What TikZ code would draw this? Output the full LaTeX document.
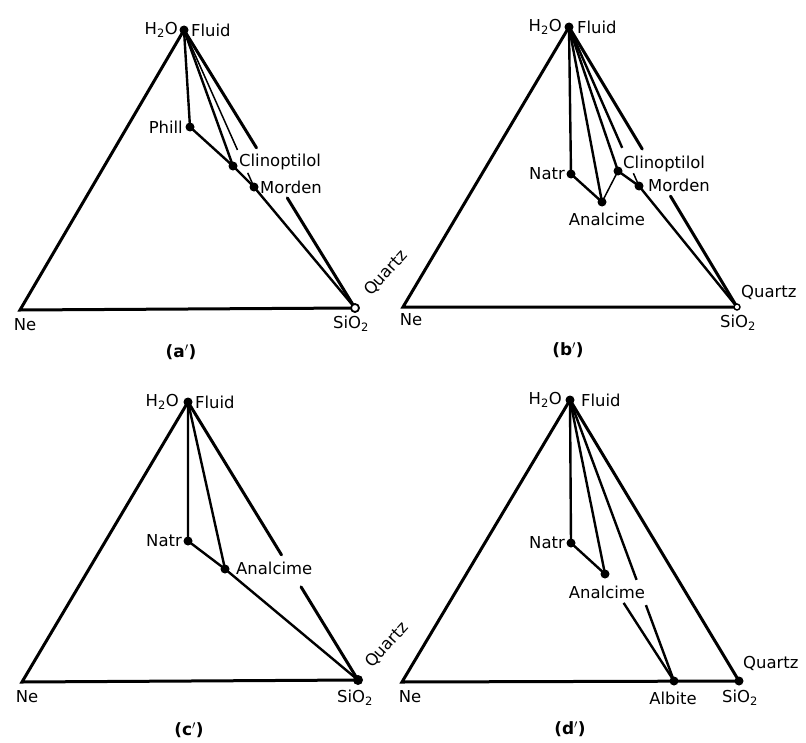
\documentclass[tikz,border=0pt]{standalone}
\usepackage{fontspec}
\setmainfont{DejaVu Sans}
\begin{document}
\begin{tikzpicture}[x=1bp,y=-1bp,
  edge/.style={line width=3bp,line cap=round},
  tie/.style={line width=2.4bp},
  thin tie/.style={line width=1.5bp},
  dot/.style={circle,fill=black,inner sep=0pt,minimum size=9bp},
  odot/.style={circle,draw=black,fill=white,line width=1.8bp,inner sep=0pt,minimum size=8bp},
  lab/.style={inner sep=1bp,font=\fontsize{16.5}{16.5}\selectfont},
  captext/.style={inner sep=1bp,font=\fontsize{17}{17}\selectfont\bfseries}]
\useasboundingbox (0,0) rectangle (806,743);
% ================= (a') =================
\coordinate (aH) at (184,30);
\coordinate (aN) at (20,310);
\coordinate (aS) at (355,308);
\coordinate (aP) at (190,127);
\coordinate (aC) at (233,166);
\coordinate (aM) at (254,187);
\path (aH) -- (aS) coordinate[pos=0.424] (aHS1) coordinate[pos=0.604] (aHS2);
\path (aH) -- (aM) coordinate[pos=0.764] (aHM1) coordinate[pos=0.91] (aHM2);
\draw[edge] (aH) -- (aN) -- (aS);
\draw[edge] (aH) -- (aHS1);
\draw[edge] (aHS2) -- (aS);
\draw[tie] (aH) -- (aP) -- (aC) -- (aM) -- (aS);
\draw[tie] (aH) -- (aC);
\draw[thin tie] (aH) -- (aHM1);
\draw[thin tie] (aHM2) -- (aM);
\node[dot] at (aH) {};
\node[dot] at (aP) {};
\node[dot] at (aC) {};
\node[dot] at (aM) {};
\node[odot] at (aS) {};
\node[lab,anchor=east] (aHl) at (179,30) {H\textsubscript{2}O};
\node[lab,anchor=west] (aFl) at (190,30) {Fluid};
\node[lab,anchor=east] (aPl) at (184,127) {Phill};
\node[lab,anchor=west] (aCl) at (238,162) {Clinoptilol};
\node[lab,anchor=west] (aMl) at (259,187) {Morden};
\node[lab,rotate=48] (aQl) at (386,273) {Quartz};
\node[lab] (aSl) at (351,324) {SiO\textsubscript{2}};
\node[lab] (aNl) at (25,325) {Ne};
\node[captext] (acap) at (181,352) {(a$'$)};
% ================= (b') =================
\coordinate (bH) at (569,27);
\coordinate (bN) at (403,307);
\coordinate (bS) at (737,307);
\coordinate (bT) at (571,174);
\coordinate (bA) at (602,202);
\coordinate (bC) at (618,171);
\coordinate (bM) at (639,186);
\path (bH) -- (bS) coordinate[pos=0.436] (bHS1) coordinate[pos=0.604] (bHS2);
\path (bH) -- (bM) coordinate[pos=0.76] (bHM1) coordinate[pos=0.92] (bHM2);
\draw[edge] (bH) -- (bN) -- (bS);
\draw[edge] (bH) -- (bHS1);
\draw[edge] (bHS2) -- (bS);
\draw[tie] (bH) -- (bT) -- (bA);
\draw[thin tie] (bA) -- (bC);
\draw[tie] (bC) -- (bM) -- (bS);
\draw[tie] (bH) -- (bA);
\draw[tie] (bH) -- (bC);
\draw[tie] (bH) -- (bHM1);
\draw[thin tie] (bHM2) -- (bM);
\node[dot] at (bH) {};
\node[dot] at (bT) {};
\node[dot] at (bA) {};
\node[dot] at (bC) {};
\node[dot] at (bM) {};
\node[odot,minimum size=6bp,line width=1.4bp] at (bS) {};
\node[lab,anchor=east] (bHl) at (563,27) {H\textsubscript{2}O};
\node[lab,anchor=west] (bFl) at (576,27) {Fluid};
\node[lab,anchor=east] (bTl) at (566,174) {Natr};
\node[lab] (bAl) at (607,219) {Analcime};
\node[lab,anchor=west] (bCl) at (622,164) {Clinoptilol};
\node[lab,anchor=west] (bMl) at (647,185) {Morden};
\node[lab,anchor=west] (bQl) at (740,292) {Quartz};
\node[lab] (bSl) at (738,323) {SiO\textsubscript{2}};
\node[lab] (bNl) at (411,320) {Ne};
\node[captext] (bcap) at (568,350) {(b$'$)};
% ================= (c') =================
\coordinate (cH) at (188,402);
\coordinate (cN) at (22,682);
\coordinate (cS) at (358,680);
\coordinate (cT) at (188,541);
\coordinate (cA) at (225,569);
\path (cH) -- (cS) coordinate[pos=0.55] (cHS1) coordinate[pos=0.665] (cHS2);
\draw[edge] (cH) -- (cN) -- (cS);
\draw[edge] (cH) -- (cHS1);
\draw[edge] (cHS2) -- (cS);
\draw[tie] (cH) -- (cT) -- (cA) -- (cS);
\draw[tie] (cH) -- (cA);
\node[dot] at (cH) {};
\node[dot] at (cT) {};
\node[dot] at (cA) {};
\node[dot,minimum size=10bp] at (cS) {};
\node[lab,anchor=east] (cHl) at (180,402) {H\textsubscript{2}O};
\node[lab,anchor=west] (cFl) at (194,402) {Fluid};
\node[lab,anchor=east] (cTl) at (183,541) {Natr};
\node[lab,anchor=west] (cAl) at (235,568) {Analcime};
\node[lab,rotate=48] (cQl) at (387,645) {Quartz};
\node[lab] (cSl) at (355,698) {SiO\textsubscript{2}};
\node[lab] (cNl) at (27,697) {Ne};
\node[captext] (ccap) at (189,730) {(c$'$)};
% ================= (d') =================
\coordinate (dH) at (570,400);
\coordinate (dN) at (402,682);
\coordinate (dS) at (739,681);
\coordinate (dB) at (674,681);
\coordinate (dT) at (571,543);
\coordinate (dA) at (605,574);
\path (dH) -- (dB) coordinate[pos=0.64] (dHB1) coordinate[pos=0.73] (dHB2);
\path (dA) -- (dB) coordinate[pos=0.27] (dAB1);
\draw[edge] (dH) -- (dN) -- (dS);
\draw[edge] (dH) -- (dS);
\draw[tie] (dH) -- (dT) -- (dA);
\draw[tie] (dH) -- (dA);
\draw[tie] (dH) -- (dHB1);
\draw[tie] (dHB2) -- (dB);
\draw[tie] (dAB1) -- (dB);
\node[dot] at (dH) {};
\node[dot] at (dT) {};
\node[dot] at (dA) {};
\node[dot] at (dB) {};
\node[dot] at (dS) {};
\node[lab,anchor=east] (dHl) at (563,400) {H\textsubscript{2}O};
\node[lab,anchor=west] (dFl) at (580,400) {Fluid};
\node[lab,anchor=east] (dTl) at (566,543) {Natr};
\node[lab] (dAl) at (607,592) {Analcime};
\node[lab] (dBl) at (673,698) {Albite};
\node[lab] (dSl) at (740,698) {SiO\textsubscript{2}};
\node[lab,anchor=west] (dQl) at (742,663) {Quartz};
\node[lab] (dNl) at (410,697) {Ne};
\node[captext] (dcap) at (570,729) {(d$'$)};
\end{tikzpicture}
\end{document}
